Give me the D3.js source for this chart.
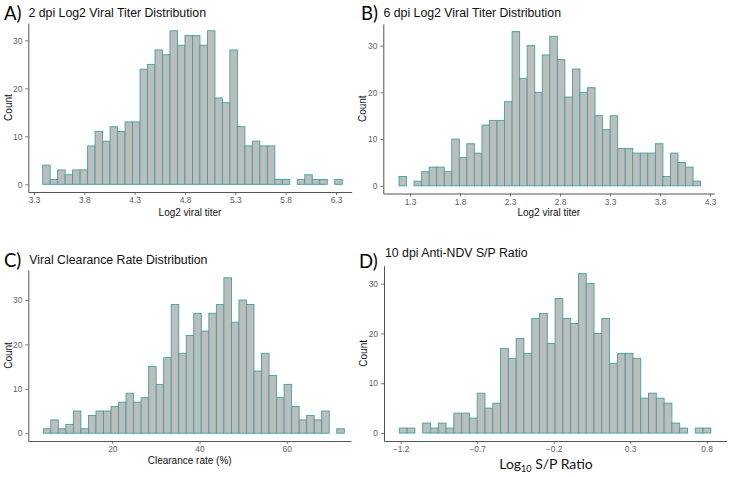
<!DOCTYPE html>
<html>
<head>
<meta charset="utf-8">
<script src="https://cdn.jsdelivr.net/npm/d3@7"></script>
<style>
  html, body { margin: 0; padding: 0; background: #fff; }
  svg { display: block; }
</style>
</head>
<body>
<svg id="chart" width="729" height="477"></svg>
<script>
// ---------- DATA ----------
const countsA = [4,1,3,2,3,3,8,11,9,12,11,13,13,24,25,28,27,32,29,31,31,29,32,18,17,28,12,8,9,8,8,1,1,0,1,2,1,1,0,1];
const countsB = [2,0,1,3,4,4,3,10,6,9,7,13,14,14,18,33,23,30,20,28,32,27,19,25,20,21,15,12,15,8,8,7,7,7,9,2,7,5,4,1];
const countsC = [1,3,1,2,5,1,4,5,5,6,7,9,7,8,15,11,17,29,18,22,27,23,27,29,35,25,30,29,14,18,13,8,11,6,3,4,3,5,0,1];
const countsD = [1,1,0,2,1,2,1,4,4,3,8,5,6,17,15,19,16,23,24,18,27,23,22,32,30,20,23,14,16,16,15,7,8,7,6,2,1,0,1,1];

const ticksA = [3.3, 3.8, 4.3, 4.8, 5.3, 5.8, 6.3];
const ticksB = [1.3, 1.8, 2.3, 2.8, 3.3, 3.8, 4.3];
const ticksC = [20, 40, 60];
const ticksD = [-1.2, -0.7, -0.2, 0.3, 0.8];
const yTicks = [0, 10, 20, 30];

// bin start and bin width (data units) per panel
const binStartA = 3.386, binWidthA = 0.0744;
const binStartB = 1.190, binWidthB = 0.0754;
const binStartC = 4.17,  binWidthC = 1.726;
const binStartD = -1.209, binWidthD = 0.0509;

const titles = ["2 dpi Log2 Viral Titer Distribution", "6 dpi Log2 Viral Titer Distribution",
                "Viral Clearance Rate Distribution", "10 dpi Anti-NDV S/P Ratio"];
const letters = ["A)", "B)", "C)", "D)"];
const xTitles = ["Log2 viral titer", "Log2 viral titer", "Clearance rate (%)", null];

// ---------- LAYOUT ----------
const panels = [
  { counts: countsA, ticks: ticksA, start: binStartA, width: binWidthA, fmt: d3.format(".1f"),
    tickRef: [3.3, 6.3], tickPx: [34, 336], left: 28.3, right: 351.7, top: 23.1, bottom: 192,
    letterX: 4, letterY: 20, titleX: 28.5, titleY: 16.7, countX: 8, xTitleY: 216 },
  { counts: countsB, ticks: ticksB, start: binStartB, width: binWidthB, fmt: d3.format(".1f"),
    tickRef: [1.3, 4.3], tickPx: [410, 710], left: 383.3, right: 714.3, top: 23.9, bottom: 193.5,
    letterX: 361, letterY: 20, titleX: 383.5, titleY: 16.7, countX: 362, xTitleY: 216 },
  { counts: countsC, ticks: ticksC, start: binStartC, width: binWidthC, fmt: d3.format("d"),
    tickRef: [20, 60], tickPx: [112.3, 286.7], left: 28.3, right: 351, top: 270, bottom: 441,
    letterX: 4, letterY: 267, titleX: 29.3, titleY: 264.3, countX: 8, xTitleY: 464 },
  { counts: countsD, ticks: ticksD, start: binStartD, width: binWidthD, fmt: d3.format(".1f"),
    tickRef: [-1.2, 0.8], tickPx: [400.7, 706.7], left: 384, right: 726.5, top: 265.7, bottom: 441,
    letterX: 359, letterY: 268, titleX: 385, titleY: 257, countX: 363, xTitleY: 469 }
];

const FILL = "#bdbdbd";
const STROKE = "#42a0a0";
const AXIS = "#555";
const TICKTXT = "#5e5e5e";
const SANS = "'Liberation Sans', Arial, sans-serif";
const HUMAN = "Lato, 'Open Sans', sans-serif";

const svg = d3.select("#chart");

panels.forEach((p, k) => {
  const g = svg.append("g");
  const x = d3.scaleLinear().domain(p.tickRef).range(p.tickPx);
  const ymax = d3.max(p.counts);
  const y = d3.scaleLinear().domain([-0.05 * ymax, 1.05 * ymax]).range([p.bottom, p.top]);

  // bars
  g.append("g").selectAll("rect").data(p.counts).join("rect")
    .attr("x", (d, i) => x(p.start + i * p.width))
    .attr("width", (d, i) => x(p.start + (i + 1) * p.width) - x(p.start + i * p.width))
    .attr("y", d => y(d))
    .attr("height", d => y(0) - y(d))
    .attr("fill", FILL)
    .attr("stroke", STROKE)
    .attr("stroke-width", 0.9);

  // x axis
  const xScaleAxis = x.copy().domain([x.invert(p.left), x.invert(p.right)]).range([p.left, p.right]);
  const xa = g.append("g").attr("transform", `translate(0,${p.bottom})`)
    .call(d3.axisBottom(xScaleAxis).tickValues(p.ticks).tickFormat(p.fmt).tickSize(3).tickSizeOuter(0).tickPadding(2.5));
  // y axis
  const ya = g.append("g").attr("transform", `translate(${p.left},0)`)
    .call(d3.axisLeft(y).tickValues(yTicks).tickFormat(d3.format("d")).tickSize(3).tickSizeOuter(0).tickPadding(3));
  [xa, ya].forEach(a => {
    a.select(".domain").attr("stroke", AXIS).attr("stroke-width", 1);
    a.selectAll(".tick line").attr("stroke", AXIS).attr("stroke-width", 0.8);
    a.selectAll(".tick text").attr("fill", TICKTXT).attr("font-family", SANS).attr("font-size", 8.4);
  });

  // titles
  g.append("text").attr("x", p.letterX).attr("y", p.letterY)
    .attr("font-family", HUMAN).attr("font-size", 18.5).attr("fill", "#000")
    .text(letters[k]);
  g.append("text").attr("x", p.titleX).attr("y", p.titleY)
    .attr("font-family", SANS).attr("font-size", 12.3).attr("fill", "#111")
    .text(titles[k]);

  // y title
  const cy = (p.top + p.bottom) / 2;
  g.append("text").attr("transform", `translate(${p.countX},${cy}) rotate(-90)`)
    .attr("text-anchor", "middle").attr("dominant-baseline", "central")
    .attr("font-family", SANS).attr("font-size", 10).attr("fill", "#111")
    .text("Count");

  // x title
  const cx = (p.left + p.right) / 2;
  if (xTitles[k]) {
    g.append("text").attr("x", cx).attr("y", p.xTitleY).attr("text-anchor", "middle")
      .attr("font-family", SANS).attr("font-size", 10).attr("fill", "#111")
      .text(xTitles[k]);
  } else {
    const t = g.append("text").attr("x", 546).attr("y", p.xTitleY).attr("text-anchor", "middle")
      .attr("font-family", HUMAN).attr("font-size", 14).attr("fill", "#111");
    t.append("tspan").text("Log");
    t.append("tspan").attr("font-size", 9).attr("dy", 3).text("10");
    t.append("tspan").attr("dy", -3).text(" S/P Ratio");
  }
});
</script>
</body>
</html>
